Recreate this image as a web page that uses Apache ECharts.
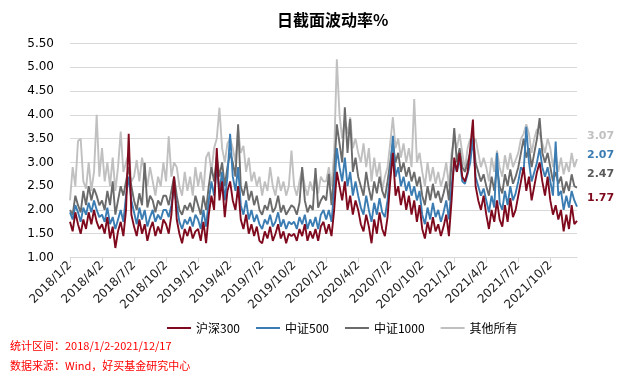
<!DOCTYPE html>
<html><head><meta charset="utf-8">
<script src="https://cdn.jsdelivr.net/npm/echarts@6/dist/echarts.min.js"></script>
<style>html,body{margin:0;padding:0;background:#fff}#c{width:617px;height:382px}</style>
</head><body><div id="c"></div>
<script>
var tickLabels = ['2018/1/2','2018/4/2','2018/7/2','2018/10/2','2019/1/2','2019/4/2','2019/7/2','2019/10/2','2020/1/2','2020/4/2','2020/7/2','2020/10/2','2021/1/2','2021/4/2','2021/7/2','2021/10/2'];
var seriesNames = ['沪深300','中证500','中证1000','其他所有'];

var hs300 = [
1.75,1.55,1.95,1.7,1.5,1.8,1.6,1.95,1.7,2.0,1.75,1.6,
1.7,1.5,1.85,1.4,1.65,1.2,1.55,1.75,1.45,2.0,3.6,1.9,
1.65,1.45,1.8,1.5,1.7,1.35,1.6,1.75,1.45,1.65,1.5,1.8,
1.7,1.5,1.9,2.7,1.8,1.5,1.3,1.6,1.45,1.65,1.4,1.55,
1.6,1.35,1.75,1.3,1.9,2.3,2.0,3.3,2.2,2.6,1.85,2.4,
2.6,2.2,2.0,2.5,1.8,1.6,1.9,1.5,1.7,1.45,1.65,1.35,
1.3,1.55,1.4,1.65,1.35,1.5,1.7,1.4,1.55,1.3,1.5,1.45,
1.5,1.35,1.6,1.45,1.7,1.35,1.55,1.4,1.6,1.35,1.65,1.75,
1.5,1.7,1.45,2.0,2.8,2.5,2.2,2.6,2.0,2.3,1.9,2.2,
2.0,1.7,1.55,1.9,1.65,1.3,1.8,1.5,1.95,1.6,1.45,1.85,
2.6,3.2,2.3,2.5,2.1,2.4,2.0,2.3,1.9,2.2,1.75,2.1,
1.6,1.4,1.75,1.5,1.85,1.55,1.7,1.45,1.65,1.9,1.45,2.2,
3.1,2.8,3.2,2.7,2.6,2.8,3.3,3.9,2.5,2.2,2.0,2.3,
1.9,1.6,2.0,1.75,2.2,1.8,1.65,2.1,1.75,2.25,1.85,2.0,
2.3,2.6,2.9,2.4,2.7,2.2,2.5,2.8,3.0,2.6,2.3,2.7,
2.2,1.9,2.1,1.8,2.0,1.55,1.9,1.6,2.1,1.7,1.77
];
var zz500 = [
1.95,1.8,2.1,1.95,1.75,2.05,1.9,2.15,1.95,2.2,2.0,1.85,
1.9,1.75,2.05,1.7,1.85,1.6,1.8,2.0,1.75,2.3,2.7,2.2,
1.95,1.7,2.05,1.8,2.0,1.65,1.85,2.0,1.75,1.9,1.8,2.0,
2.0,1.85,2.1,2.45,2.1,1.75,1.6,1.8,1.7,1.85,1.65,1.9,
1.8,1.6,2.0,1.65,2.2,2.6,2.3,2.9,2.4,2.8,2.2,2.7,
3.6,2.7,2.4,2.9,2.1,1.9,2.2,1.8,2.0,1.75,1.9,1.7,
1.6,1.8,1.7,1.9,1.65,1.75,1.95,1.65,1.8,1.6,1.75,1.7,
1.75,1.6,1.85,1.7,1.9,1.6,1.8,1.65,1.85,1.6,1.9,2.0,
1.8,2.0,1.75,2.4,3.3,2.9,2.6,3.1,2.5,2.8,2.3,2.6,
2.3,2.05,1.9,2.3,2.0,1.75,2.15,1.9,2.25,1.95,1.85,2.2,
2.8,3.56,2.7,2.9,2.5,2.7,2.4,2.6,2.3,2.5,2.2,2.4,
1.9,1.7,2.05,1.8,2.15,1.85,2.0,1.75,1.95,2.2,1.8,2.5,
3.0,2.8,3.1,2.6,2.55,2.75,3.0,3.5,2.7,2.5,2.3,2.45,
2.2,1.95,2.3,2.05,3.2,2.15,2.0,2.4,2.1,2.5,2.2,2.35,
2.6,2.9,2.8,3.75,3.0,2.6,2.8,3.0,3.3,2.9,2.7,2.9,
2.6,2.3,3.44,2.3,2.4,2.0,2.3,2.05,2.4,2.2,2.07
];
var zz1000 = [
2.0,1.9,2.3,2.1,1.95,2.4,2.1,2.5,2.2,2.45,2.3,2.1,
2.2,2.0,2.4,2.1,2.6,1.9,2.2,2.5,2.3,2.6,2.9,2.5,
2.2,2.0,2.35,2.1,2.99,2.05,2.3,2.2,1.95,2.2,2.1,2.3,
2.3,2.1,2.4,2.7,2.3,2.0,1.9,2.1,2.0,2.15,1.95,2.3,
2.1,1.9,2.3,2.0,2.5,2.9,2.6,3.12,2.7,3.0,2.5,2.9,
3.2,3.0,2.7,3.8,2.5,2.3,2.6,2.2,2.4,2.1,2.3,2.0,
1.9,2.1,2.0,2.25,1.95,2.05,2.3,1.95,2.1,1.9,2.0,2.1,
2.05,1.9,2.15,2.9,2.2,1.95,2.1,2.0,2.88,2.05,2.2,2.3,
2.2,2.76,2.1,2.8,3.8,3.4,3.0,4.16,3.2,3.91,2.8,3.1,
2.7,2.5,2.3,2.8,2.45,2.2,2.6,2.35,2.7,2.4,2.25,2.6,
3.0,3.4,3.0,3.2,2.8,3.0,2.7,2.9,2.6,2.8,2.5,2.7,
2.3,2.1,2.5,2.2,2.55,2.25,2.4,2.15,2.35,2.6,2.2,3.0,
3.72,3.0,3.3,2.9,2.8,3.0,3.2,3.6,3.0,2.8,2.6,2.75,
2.5,2.3,2.7,2.4,2.9,2.5,2.35,2.75,2.5,2.85,2.55,2.7,
2.9,3.2,3.5,3.1,3.3,2.9,3.2,3.5,3.93,3.2,3.0,3.2,
2.9,2.6,2.8,2.55,2.7,2.35,2.6,2.4,2.75,2.5,2.47
];
var others = [
2.2,2.9,2.5,3.45,3.5,2.6,2.45,3.0,2.4,2.8,4.0,2.7,
3.3,2.6,3.0,2.5,3.1,2.4,2.9,3.65,2.8,3.0,3.2,2.6,
2.7,3.05,2.6,3.1,2.8,2.5,2.9,2.6,2.3,2.7,2.5,3.0,
2.6,3.55,2.7,3.0,2.9,2.5,2.3,2.8,2.4,2.7,2.3,2.9,
2.5,2.8,2.4,3.1,3.22,2.8,3.3,3.5,4.15,3.3,3.0,3.4,
3.5,3.3,3.0,3.7,3.2,3.35,2.8,3.1,2.6,2.8,2.5,2.7,
2.3,2.6,2.4,2.9,2.5,2.3,2.7,2.4,2.6,2.3,2.5,3.25,
2.5,2.3,2.6,2.85,2.5,2.3,2.6,2.4,2.75,2.35,2.7,2.6,
2.6,2.9,2.5,3.2,5.17,4.0,3.5,3.9,3.6,3.95,3.3,3.5,
3.2,3.0,3.4,2.9,3.3,2.6,3.1,2.7,3.0,2.4,2.7,2.9,
3.4,3.95,3.3,3.5,3.1,3.4,3.0,3.3,2.9,4.33,3.0,3.2,
2.8,2.5,3.0,2.6,2.9,2.55,2.8,2.5,2.7,3.0,2.5,3.2,
3.5,3.3,3.6,3.2,2.85,3.3,3.5,3.4,3.5,3.2,2.9,3.1,
2.9,2.6,3.1,2.8,3.25,2.9,2.7,3.15,2.85,3.2,2.9,3.05,
3.2,3.5,3.6,3.8,3.6,3.2,3.5,3.7,3.6,3.4,3.2,3.5,
3.3,2.9,3.2,2.8,3.1,2.75,3.0,2.8,3.2,2.9,3.07
];

var PER_Q = 12;
var categories = hs300.map(function(_, i){ return (i % PER_Q === 0 && tickLabels[i/PER_Q]) ? tickLabels[i/PER_Q] : ('d' + i); });
var showIdx = function(i){ return i % PER_Q === 0 && i / PER_Q < tickLabels.length; };

var colors = ['#7F0A1E','#3B7DB3','#6B6B6B','#C0C0C0'];
var labelDy = [-23, -51, -13, -23];
var values = [hs300, zz500, zz1000, others];

var chart = echarts.init(document.getElementById('c'));
var series = values.map(function(v, k){
  return {
    name: seriesNames[k], type: 'line', data: v, symbol: 'none', showSymbol: false,
    z: 10 - k,
    lineStyle: { width: 1.9, color: colors[k] },
    itemStyle: { color: colors[k] },
    animation: false,
    endLabel: { show: true, distance: 10, offset: [0, labelDy[k]],
      formatter: function(p){ return Number(p.value).toFixed(2); },
      color: k === 2 ? '#595959' : colors[k], fontWeight: 'bold', fontSize: 11,
      fontFamily: 'DejaVu Sans' }
  };
});

chart.setOption({
  animation: false,
  title: { text: '日截面波动率%', left: 272, top: 7,
    textStyle: { fontSize: 16, fontWeight: 'bold', color: '#000', fontFamily: 'Noto Sans CJK SC' } },
  grid: { left: 70, right: 40, top: 43.5, bottom: 124.5 },
  legend: { left: 162, top: 317, itemWidth: 24, itemHeight: 10, itemGap: 16,
    icon: 'path://M0,4 L24,4 L24,6 L0,6 Z',
    textStyle: { fontSize: 12, color: '#000', fontFamily: 'Noto Sans CJK SC' },
    data: seriesNames },
  xAxis: { type: 'category', data: categories, boundaryGap: false,
    axisLine: { lineStyle: { color: '#D9D9D9', width: 1 } },
    axisTick: { show: true, interval: function(i){ return showIdx(i); }, length: 5, lineStyle: { color: '#D9D9D9' } },
    axisLabel: { interval: function(i){ return showIdx(i); }, rotate: 45, fontSize: 12, color: '#222', margin: 6,
      fontFamily: 'DejaVu Sans' } ,
    splitLine: { show: false } },
  yAxis: { type: 'value', min: 1, max: 5.5, interval: 0.5,
    axisLine: { show: false }, axisTick: { show: false },
    axisLabel: { formatter: function(v){ return v.toFixed(2); }, fontSize: 12, color: '#000', margin: 16,
      fontFamily: 'DejaVu Sans' },
    splitLine: { lineStyle: { color: '#D9D9D9', width: 1 } } },
  graphic: [
    { type: 'text', left: 10, top: 340, style: { text: '统计区间：2018/1/2-2021/12/17', fill: '#FF0000', fontSize: 11, fontFamily: 'Noto Sans CJK SC' } },
    { type: 'text', left: 10, top: 360, style: { text: '数据来源：Wind，好买基金研究中心', fill: '#FF0000', fontSize: 11, fontFamily: 'Noto Sans CJK SC' } }
  ],
  series: series
});
</script></body></html>
